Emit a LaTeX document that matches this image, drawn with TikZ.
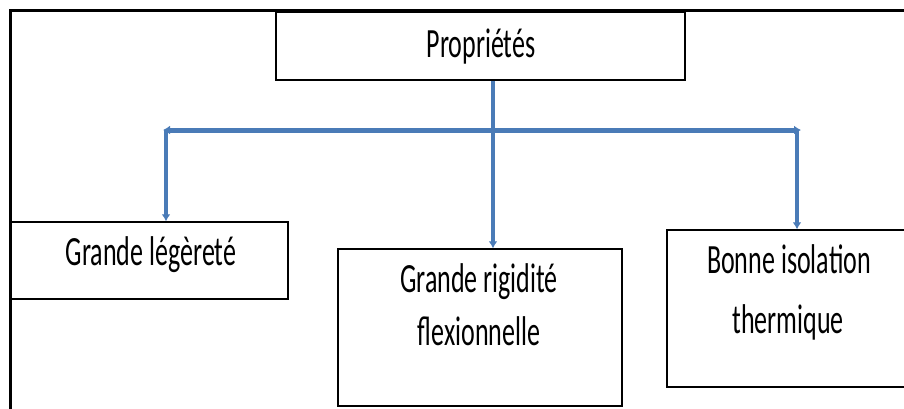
\documentclass[tikz,border=0pt]{standalone}
\usepackage{fontspec}
\setmainfont{Carlito}
\usepackage{graphicx}
\usetikzlibrary{arrows.meta,calc,positioning}
\definecolor{linkblue}{HTML}{4A7BB7}
\newcommand{\tall}[1]{\scalebox{1}[1.6]{#1}}
\tikzset{
    framesty/.style={line width=3pt},
    boxsty/.style={draw,line width=1.5pt,rectangle,inner sep=0pt},
    txtsty/.style={font=\fontsize{26}{30}\selectfont,inner sep=0pt,anchor=base},
    bussty/.style={draw=linkblue,line width=5pt,<->},
    linksty/.style={draw=linkblue,line width=3.5pt,->},
}

\begin{document}
\begin{tikzpicture}[x=1pt,y=-1pt,>={Latex[length=7pt,width=9pt]}]
  \useasboundingbox (0,0) rectangle (904,408);
  \clip (0,0) rectangle (904,408);
  \draw[framesty] (10,420) -- (10,10) -- (920,10);

  \node[boxsty,minimum width=409pt,minimum height=68pt] (props) at (480.5,46) {};
  \node[boxsty,minimum width=277pt,minimum height=77pt] (leger) at (149.5,260.5) {};
  \node[boxsty,minimum width=284pt,minimum height=157pt] (rigid) at (480,327.5) {};
  \node[boxsty,minimum width=253pt,minimum height=157pt] (isol) at (793.5,308.5) {};

  \node[txtsty] (propstxt) at (481,57) {\tall{Propriétés}};
  \node[txtsty] (legertxt) at (151,265) {\tall{Grande légèreté}};
  \node[txtsty] (rigidtxt) at (479,292) {\tall{Grande rigidité}};
  \node[txtsty] (flextxt) at (479,345) {\tall{flexionnelle}};
  \node[txtsty] (isoltxt) at (789,273) {\tall{Bonne isolation}};
  \node[txtsty] (thermtxt) at (788,333) {\tall{thermique}};

  \coordinate (busL) at (163,130);
  \coordinate (busR) at (801,130);
  \coordinate (hub) at (493,130);
  \coordinate (legdrop) at (166,130);
  \coordinate (isodrop) at (797,130);

  \draw[bussty] (busL) -- (busR);
  \draw[linksty] (props.south -| hub) -- (rigid.north -| hub);
  \draw[linksty] (legdrop) -- (legdrop |- leger.north);
  \draw[linksty] (isodrop) -- (isodrop |- isol.north);
\end{tikzpicture}
\end{document}
